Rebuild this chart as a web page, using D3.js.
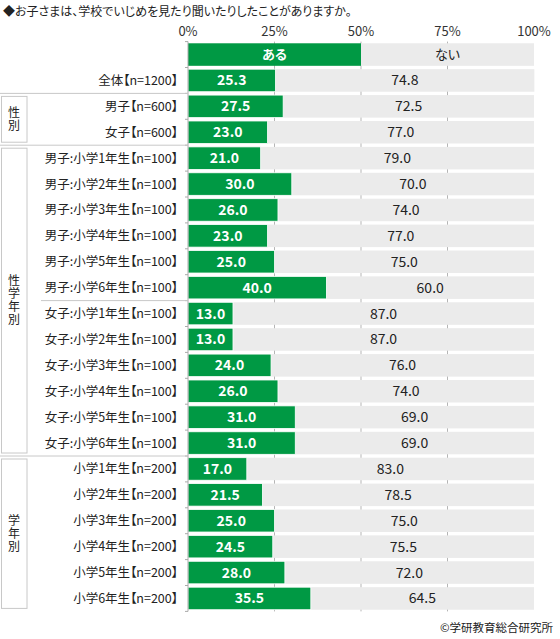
<!DOCTYPE html>
<html>
<head>
<meta charset="utf-8">
<script src="https://cdn.jsdelivr.net/npm/d3@7"></script>
<style>
  body { margin: 0; background: #fff; }
  text { font-family: "Noto Sans CJK JP", "Noto Sans", sans-serif; font-feature-settings: "palt"; }
</style>
</head>
<body>
<div id="chart"></div>
<script>
const title = "◆お子さまは、学校でいじめを見たり聞いたりしたことがありますか。";
const seriesNames = ["ある", "ない"];
const categories = [
  "全体【n=1200】",
  "男子【n=600】", "女子【n=600】",
  "男子:小学1年生【n=100】", "男子:小学2年生【n=100】", "男子:小学3年生【n=100】",
  "男子:小学4年生【n=100】", "男子:小学5年生【n=100】", "男子:小学6年生【n=100】",
  "女子:小学1年生【n=100】", "女子:小学2年生【n=100】", "女子:小学3年生【n=100】",
  "女子:小学4年生【n=100】", "女子:小学5年生【n=100】", "女子:小学6年生【n=100】",
  "小学1年生【n=200】", "小学2年生【n=200】", "小学3年生【n=200】",
  "小学4年生【n=200】", "小学5年生【n=200】", "小学6年生【n=200】"
];
const aru = [25.3, 27.5, 23.0, 21.0, 30.0, 26.0, 23.0, 25.0, 40.0, 13.0, 13.0, 24.0, 26.0, 31.0, 31.0, 17.0, 21.5, 25.0, 24.5, 28.0, 35.5];
const nai = [74.8, 72.5, 77.0, 79.0, 70.0, 74.0, 77.0, 75.0, 60.0, 87.0, 87.0, 76.0, 74.0, 69.0, 69.0, 83.0, 78.5, 75.0, 75.5, 72.0, 64.5];
const ticks = [0, 25, 50, 75, 100];
// groups: label, first and last category index
const groupLabels = ["性別", "性学年別", "学年別"];
const groupFirst = [1, 3, 15];
const groupLast = [2, 14, 20];
const copyright = "©学研教育総合研究所";

const W = 560, H = 639;
const green = "#009944", grey = "#ebebeb";

const svg = d3.select("#chart").append("svg")
  .attr("width", W).attr("height", H);

const rows = ["legend"].concat(categories);

const x = d3.scaleLinear().domain([0, 100]).range([188, 534]);
const y = d3.scaleBand().domain(rows)
  .range([41.6, 41.6 + 22 * 25.9])
  .paddingInner(0.13).paddingOuter(0.065);

// title
svg.append("text")
  .attr("x", 3).attr("y", 12)
  .attr("dy", "0.35em")
  .style("font-size", "12px")
  .attr("fill", "#222")
  .text(title);

// top tick labels
svg.selectAll(".tick-label")
  .data(ticks)
  .join("text")
  .attr("x", d => x(d))
  .attr("y", 31)
  .attr("dy", "0.35em")
  .attr("text-anchor", "middle")
  .style("font-size", "13px")
  .attr("fill", "#333")
  .text(d => d + "%");

// grid lines (behind bars)
svg.selectAll(".grid")
  .data([25, 50, 75])
  .join("line")
  .attr("x1", d => x(d)).attr("x2", d => x(d))
  .attr("y1", y.range()[0]).attr("y2", y.range()[1])
  .attr("stroke", "#b5b5b5");

// legend row
const legendY = y("legend");
svg.append("rect")
  .attr("x", x(0)).attr("y", legendY)
  .attr("width", x(50) - x(0)).attr("height", y.bandwidth())
  .attr("fill", green);
svg.append("rect")
  .attr("x", x(50)).attr("y", legendY)
  .attr("width", x(100) - x(50)).attr("height", y.bandwidth())
  .attr("fill", grey);
svg.append("text")
  .attr("x", x(25)).attr("y", legendY + y.bandwidth() / 2)
  .attr("dy", "0.35em").attr("text-anchor", "middle")
  .style("font-size", "13px").style("font-weight", "bold")
  .attr("fill", "#fff")
  .text(seriesNames[0]);
svg.append("text")
  .attr("x", x(75)).attr("y", legendY + y.bandwidth() / 2)
  .attr("dy", "0.35em").attr("text-anchor", "middle")
  .style("font-size", "13px")
  .attr("fill", "#222")
  .text(seriesNames[1]);

// bars
const data = categories.map((c, i) => ({cat: c, aru: aru[i], nai: nai[i]}));

const rowG = svg.selectAll(".row")
  .data(data)
  .join("g")
  .attr("transform", d => `translate(0,${y(d.cat)})`);

rowG.append("rect")
  .attr("x", d => x(d.aru))
  .attr("width", d => x(d.aru + d.nai) - x(d.aru))
  .attr("height", y.bandwidth())
  .attr("fill", grey);

rowG.append("rect")
  .attr("x", x(0))
  .attr("width", d => x(d.aru) - x(0))
  .attr("height", y.bandwidth())
  .attr("fill", green)
  .attr("stroke", "#fff")
  .attr("stroke-width", 0.8);

rowG.append("text")
  .attr("x", d => (x(0) + x(d.aru)) / 2)
  .attr("y", y.bandwidth() / 2)
  .attr("dy", "0.36em").attr("text-anchor", "middle")
  .style("font-size", "14px").style("font-weight", "bold")
  .attr("fill", "#fff")
  .text(d => d.aru.toFixed(1));

rowG.append("text")
  .attr("x", d => (x(d.aru) + x(d.aru + d.nai)) / 2)
  .attr("y", y.bandwidth() / 2)
  .attr("dy", "0.36em").attr("text-anchor", "middle")
  .style("font-size", "14px")
  .attr("fill", "#222")
  .text(d => d.nai.toFixed(1));

rowG.append("text")
  .attr("x", 178)
  .attr("y", y.bandwidth() / 2)
  .attr("dy", "0.36em").attr("text-anchor", "end")
  .style("font-size", "12.5px")
  .attr("fill", "#222")
  .text(d => d.cat);

// left axis line with outward ticks at row boundaries
const step = y.step();
const yTop = y.range()[0];
svg.append("line")
  .attr("x1", x(0)).attr("x2", x(0))
  .attr("y1", yTop).attr("y2", y.range()[1])
  .attr("stroke", "#aaa");
svg.selectAll(".ytick")
  .data(d3.range(rows.length + 1))
  .join("line")
  .attr("x1", x(0) - 3).attr("x2", x(0))
  .attr("y1", i => yTop + i * step).attr("y2", i => yTop + i * step)
  .attr("stroke", "#aaa");

// group separators and label boxes
const boundary = i => y(categories[i]) - (step - y.bandwidth()) / 2;
const sepIdx = [1, 3, 15];
svg.selectAll(".sep")
  .data(sepIdx)
  .join("line")
  .attr("x1", 0).attr("x2", x(0))
  .attr("y1", d => boundary(d)).attr("y2", d => boundary(d))
  .attr("stroke", "#c8c8c8");
svg.append("line")
  .attr("x1", 41).attr("x2", x(0))
  .attr("y1", boundary(9)).attr("y2", boundary(9))
  .attr("stroke", "#c8c8c8");

groupLabels.forEach((lab, g) => {
  const y0 = boundary(groupFirst[g]) + 3;
  const y1 = boundary(groupLast[g]) + step - 3;
  svg.append("rect")
    .attr("x", 1.5).attr("y", y0)
    .attr("width", 25.5).attr("height", y1 - y0)
    .attr("fill", "#fff")
    .attr("stroke", "#c8c8c8");
  svg.append("text")
    .attr("x", 14).attr("y", (y0 + y1) / 2)
    .attr("text-anchor", "middle")
    .style("writing-mode", "vertical-rl")
    .style("font-size", "12px")
    .style("letter-spacing", "1px")
    .attr("fill", "#222")
    .text(lab);
});

// copyright
svg.append("text")
  .attr("x", 553).attr("y", 628)
  .attr("dy", "0.35em").attr("text-anchor", "end")
  .style("font-size", "11.5px")
  .attr("fill", "#222")
  .text(copyright);
</script>
</body>
</html>
